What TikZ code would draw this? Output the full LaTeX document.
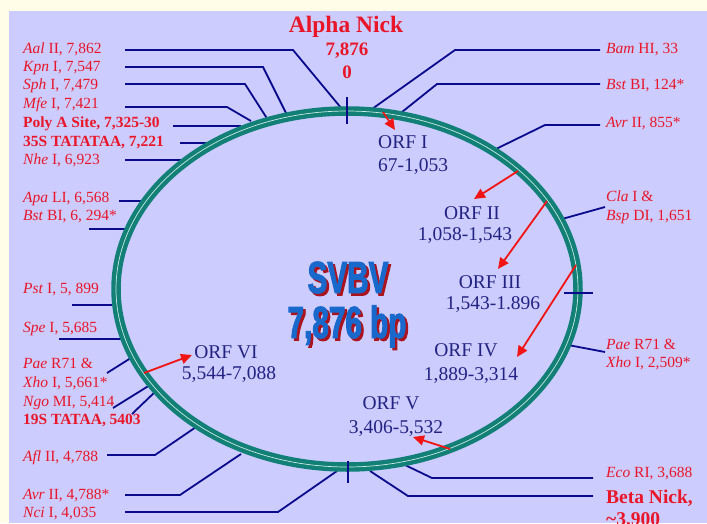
\documentclass[tikz,border=0pt]{standalone}
\usepackage{fontspec}
\setmainfont{Liberation Serif}
\newfontfamily\svbvfont[FakeStretch=0.66,FakeBold=2]{Liberation Sans}
\usetikzlibrary{arrows.meta}
\definecolor{cream}{RGB}{255,252,232}
\definecolor{lav}{RGB}{204,204,255}
\definecolor{labred}{RGB}{232,22,40}
\definecolor{navy}{RGB}{10,10,140}
\definecolor{orfblue}{RGB}{35,35,130}
\definecolor{ringteal}{RGB}{18,128,118}
\definecolor{ringlight}{RGB}{200,235,225}
\definecolor{arrowred}{RGB}{240,20,20}
\definecolor{svbvblue}{RGB}{25,105,205}
\definecolor{svbvshadow}{RGB}{170,20,30}
\tikzset{
  lbl/.style={anchor=base west, inner sep=0pt, text=labred, font=\fontsize{15.5}{18}\selectfont},
  lblb/.style={anchor=base west, inner sep=0pt, text=labred, font=\fontsize{15.5}{18}\selectfont\bfseries},
  nick/.style={anchor=base, inner sep=0pt, text=labred, font=\fontsize{19.5}{22}\selectfont\bfseries},
  lead/.style={draw=navy, line width=1.8pt},
  orf/.style={anchor=base, inner sep=0pt, text=orfblue, font=\fontsize{19.5}{22}\selectfont},
  orfarrow/.style={draw=arrowred, line width=1.8pt, -{Triangle[length=11pt,width=10pt]}},
  svbv/.style={anchor=base, inner sep=0pt, font=\svbvfont\bfseries\fontsize{45}{50}\selectfont},
}
\begin{document}
\begin{tikzpicture}[x=1pt,y=-1pt]
\useasboundingbox (0,0) rectangle (707,523);
\clip (0,0) rectangle (707,523);
\fill[cream] (0,0) rectangle (707,523);
\fill[lav] (9,11) rectangle (707,523);

% ---------- coordinates for leaders ----------
\coordinate (aalA) at (125,50);  \coordinate (aalB) at (293,50);  \coordinate (aalC) at (342,109);
\coordinate (kpnA) at (125,67);  \coordinate (kpnB) at (263,67);  \coordinate (kpnC) at (287,115);
\coordinate (sphA) at (125,84);  \coordinate (sphB) at (245,84);  \coordinate (sphC) at (268,120);
\coordinate (mfeA) at (125,107); \coordinate (mfeB) at (227,107); \coordinate (mfeC) at (251,121);
\coordinate (polA) at (173,126); \coordinate (polC) at (241,126);
\coordinate (ttaA) at (180,143); \coordinate (ttaC) at (211,143);
\coordinate (nheA) at (125,160); \coordinate (nheC) at (187,160);
\coordinate (apaA) at (119,201); \coordinate (apaC) at (146,201);
\coordinate (bstlA) at (89,229); \coordinate (bstlC) at (128,229);
\coordinate (pstA) at (72,305);  \coordinate (pstC) at (116,305);
\coordinate (speA) at (59,339);  \coordinate (speC) at (122,339);
\coordinate (paelA) at (107,373); \coordinate (paelC) at (134,356);
\coordinate (ngoA) at (113,408); \coordinate (ngoC) at (150,385);
\coordinate (tsA) at (132,414);  \coordinate (tsC) at (157,390);
\coordinate (aflA) at (107,455); \coordinate (aflB) at (155,455); \coordinate (aflC) at (199,425);
\coordinate (avrlA) at (125,495); \coordinate (avrlB) at (180,495); \coordinate (avrlC) at (241,454);
\coordinate (nciA) at (125,512); \coordinate (nciB) at (278,512); \coordinate (nciC) at (337,471);
\coordinate (bamA) at (600,50);  \coordinate (bamB) at (455,50);  \coordinate (bamC) at (372,109);
\coordinate (bstrA) at (600,84); \coordinate (bstrB) at (437,84); \coordinate (bstrC) at (397,116);
\coordinate (avrrA) at (600,125); \coordinate (avrrB) at (545,125); \coordinate (avrrC) at (496,149);
\coordinate (claA) at (605,207); \coordinate (claC) at (562,219);
\coordinate (paerA) at (605,352); \coordinate (paerC) at (568,345);
\coordinate (ecoA) at (593,478); \coordinate (ecoB) at (432,478); \coordinate (ecoC) at (405,465);
\coordinate (betaA) at (593,496); \coordinate (betaB) at (408,496); \coordinate (betaC) at (370,471);

\draw[lead] (aalA) -- (aalB) -- (aalC);
\draw[lead] (kpnA) -- (kpnB) -- (kpnC);
\draw[lead] (sphA) -- (sphB) -- (sphC);
\draw[lead] (mfeA) -- (mfeB) -- (mfeC);
\draw[lead] (polA) -- (polC);
\draw[lead] (ttaA) -- (ttaC);
\draw[lead] (nheA) -- (nheC);
\draw[lead] (apaA) -- (apaC);
\draw[lead] (bstlA) -- (bstlC);
\draw[lead] (pstA) -- (pstC);
\draw[lead] (speA) -- (speC);
\draw[lead] (paelA) -- (paelC);
\draw[lead] (ngoA) -- (ngoC);
\draw[lead] (tsA) -- (tsC);
\draw[lead] (aflA) -- (aflB) -- (aflC);
\draw[lead] (avrlA) -- (avrlB) -- (avrlC);
\draw[lead] (nciA) -- (nciB) -- (nciC);
\draw[lead] (bamA) -- (bamB) -- (bamC);
\draw[lead] (bstrA) -- (bstrB) -- (bstrC);
\draw[lead] (avrrA) -- (avrrB) -- (avrrC);
\draw[lead] (claA) -- (claC);
\draw[lead] (paerA) -- (paerC);
\draw[lead] (ecoA) -- (ecoB) -- (ecoC);
\draw[lead] (betaA) -- (betaB) -- (betaC);

% ---------- ring ----------
\coordinate (ctr) at (347,289);
\draw[ringteal, line width=9.5pt] (ctr) ellipse [x radius=231pt, y radius=178pt];
\draw[ringlight, line width=0.7pt] (ctr) ellipse [x radius=231pt, y radius=178pt];

% ticks
\coordinate (tkTa) at (347,97);  \coordinate (tkTb) at (347,124);
\coordinate (tkRa) at (564,293); \coordinate (tkRb) at (593,293);
\coordinate (tkBa) at (348,461); \coordinate (tkBb) at (348,483);
\draw[lead] (tkTa) -- (tkTb);
\draw[lead] (tkRa) -- (tkRb);
\draw[lead] (tkBa) -- (tkBb);

% ---------- left labels ----------
\node[lbl] (aal) at (23,53) {\textit{Aal} II, 7,862};
\node[lbl] (kpn) at (23,71) {\textit{Kpn} I, 7,547};
\node[lbl] (sph) at (23,89) {\textit{Sph} I, 7,479};
\node[lbl] (mfe) at (23,108) {\textit{Mfe} I, 7,421};
\node[lblb] (pol) at (23,127) {Poly A Site, 7,325-30};
\node[lblb] (tta) at (23,146) {35S TATATAA, 7,221};
\node[lbl] (nhe) at (23,164) {\textit{Nhe} I, 6,923};
\node[lbl] (apa) at (23,202) {\textit{Apa} LI, 6,568};
\node[lbl] (bstl) at (23,220) {\textit{Bst} BI, 6, 294*};
\node[lbl] (pst) at (23,293) {\textit{Pst} I, 5, 899};
\node[lbl] (spe) at (23,332) {\textit{Spe} I, 5,685};
\node[lbl] (pael1) at (23,368) {\textit{Pae} R71 \&};
\node[lbl] (pael2) at (23,387) {\textit{Xho} I, 5,661*};
\node[lbl] (ngo) at (23,406) {\textit{Ngo} MI, 5,414};
\node[lblb] (ts) at (23,424) {19S TATAA, 5403};
\node[lbl] (afl) at (23,461) {\textit{Afl} II, 4,788};
\node[lbl] (avrl) at (23,499) {\textit{Avr} II, 4,788*};
\node[lbl] (nci) at (23,517) {\textit{Nci} I, 4,035};

% ---------- right labels ----------
\node[lbl] (bam) at (606,53) {\textit{Bam} HI, 33};
\node[lbl] (bstr) at (606,89) {\textit{Bst} BI, 124*};
\node[lbl] (avrr) at (606,127) {\textit{Avr} II, 855*};
\node[lbl] (cla1) at (606,201) {\textit{Cla} I \&};
\node[lbl] (cla2) at (606,220) {\textit{Bsp} DI, 1,651};
\node[lbl] (paer1) at (606,349) {\textit{Pae} R71 \&};
\node[lbl] (paer2) at (606,367) {\textit{Xho} I, 2,509*};
\node[lbl] (eco) at (606,477) {\textit{Eco} RI, 3,688};
\node[nick, anchor=base west] (beta1) at (606,503) {Beta Nick,};
\node[nick, anchor=base west] (beta2) at (606,525) {\textasciitilde3,900};

% ---------- alpha nick ----------
\node[nick, font=\fontsize{23.5}{26}\selectfont\bfseries] (alpha) at (346,32) {Alpha Nick};
\node[nick, font=\fontsize{19}{22}\selectfont\bfseries] (alpha2) at (347,55) {7,876};
\node[nick, font=\fontsize{19}{22}\selectfont\bfseries] (alpha3) at (347,78) {0};

% ---------- ORFs ----------
\node[orf, anchor=base west] (orf1a) at (378,148.5) {ORF I};
\node[orf, anchor=base west] (orf1b) at (378,171.5) {67-1,053};
\node[orf] (orf2a) at (472,219.5) {ORF II};
\node[orf] (orf2b) at (465,240.5) {1,058-1,543};
\node[orf] (orf3a) at (490,288.5) {ORF III};
\node[orf] (orf3b) at (493,309.5) {1,543-1.896};
\node[orf] (orf4a) at (466,356.5) {ORF IV};
\node[orf] (orf4b) at (471,380.5) {1,889-3,314};
\node[orf] (orf5a) at (391,409.5) {ORF V};
\node[orf] (orf5b) at (396,433.5) {3,406-5,532};
\node[orf] (orf6a) at (226,358.5) {ORF VI};
\node[orf] (orf6b) at (229,379.5) {5,544-7,088};

% arrows
\coordinate (a1s) at (383,112); \coordinate (a1e) at (395,130);
\coordinate (a2s) at (518,171); \coordinate (a2e) at (474,199);
\coordinate (a3s) at (547,201); \coordinate (a3e) at (498,269);
\coordinate (a4s) at (576,265); \coordinate (a4e) at (517,357);
\coordinate (a5s) at (450,449); \coordinate (a5e) at (413,437);
\coordinate (a6s) at (144,373); \coordinate (a6e) at (192,355);
\draw[orfarrow] (a1s) -- (a1e);
\draw[orfarrow] (a2s) -- (a2e);
\draw[orfarrow] (a3s) -- (a3e);
\draw[orfarrow] (a4s) -- (a4e);
\draw[orfarrow] (a5s) -- (a5e);
\draw[orfarrow] (a6s) -- (a6e);

% ---------- SVBV title ----------
\node[svbv, text=svbvshadow] (svs1) at (350.5,295.5) {SVBV};
\node[svbv, text=svbvshadow] (svs2) at (349.5,340.5) {7,876 bp};
\node[svbv, text=svbvblue] (sv1) at (348,293) {SVBV};
\node[svbv, text=svbvblue] (sv2) at (347,338) {7,876 bp};
\end{tikzpicture}
\end{document}
